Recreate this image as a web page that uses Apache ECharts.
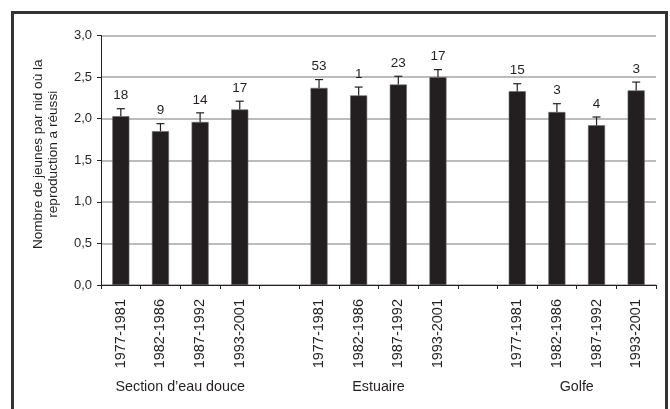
<!DOCTYPE html>
<html>
<head>
<meta charset="utf-8">
<script src="https://cdn.jsdelivr.net/npm/echarts@6/dist/echarts.min.js"></script>
<style>
  html, body { margin: 0; padding: 0; background: #fff; }
  #container { width: 670px; height: 409px; }
</style>
</head>
<body>
<div id="container"></div>
<script>
// categories: 3 groups of 4 periods, with an empty slot between groups
var periods = ['1977-1981', '1982-1986', '1987-1992', '1993-2001'];
var groups = ['Section d\u2019eau douce', 'Estuaire', 'Golfe'];

// mean young per successful nest, by group then period
var means = [
  [2.03, 1.85, 1.96, 2.11],
  [2.37, 2.28, 2.41, 2.50],
  [2.33, 2.08, 1.92, 2.34]
];
// top of the error bar
var upper = [
  [2.12, 1.94, 2.07, 2.21],
  [2.47, 2.38, 2.51, 2.59],
  [2.42, 2.18, 2.02, 2.44]
];
// number of nests (labels over bars)
var counts = [
  [18, 9, 14, 17],
  [53, 1, 23, 17],
  [15, 3, 4, 3]
];

var yTicks = [0, 0.5, 1, 1.5, 2, 2.5, 3];

// flatten into one category axis with blank slots between groups
var categories = [];
var barData = [];
var errData = [];
var groupCenters = {};
for (var g = 0; g < groups.length; g++) {
  if (g > 0) {
    categories.push('');
    barData.push('-');
  }
  var start = categories.length;
  for (var p = 0; p < periods.length; p++) {
    errData.push([categories.length, means[g][p], upper[g][p], counts[g][p]]);
    categories.push(periods[p]);
    barData.push(means[g][p]);
  }
  groupCenters[start + periods.length / 2] = groups[g];
}

var ink = '#231f20';
var font = '"Liberation Sans", Arial, sans-serif';

var dom = document.getElementById('container');
var myChart = echarts.init(dom);

var option = {
  animation: false,
  textStyle: { fontFamily: font },
  grid: { left: 101, right: 14, top: 35.5, bottom: 124 },
  graphic: [{
    type: 'rect',
    shape: { x: 12.5, y: 12.5, width: 654, height: 430 },
    style: { fill: 'none', stroke: '#333', lineWidth: 3 },
    silent: true
  }],
  xAxis: [
    {
      type: 'category',
      data: categories,
      axisLine: { lineStyle: { color: ink, width: 1 } },
      axisTick: { show: true, length: 4, interval: 0, lineStyle: { color: ink } },
      axisLabel: {
        interval: 0, rotate: 90, margin: 14,
        fontSize: 14.5, color: ink, fontFamily: font
      },
      splitLine: { show: false }
    },
    {
      type: 'value',
      position: 'bottom',
      min: 0,
      max: categories.length,
      interval: 1,
      axisLine: { show: false },
      axisTick: { show: false },
      splitLine: { show: false },
      axisLabel: {
        margin: 95, fontSize: 14.3, color: ink, fontFamily: font,
        showMinLabel: true, showMaxLabel: true,
        formatter: function (v) { return groupCenters[v] || ''; }
      }
    }
  ],
  yAxis: {
    type: 'value',
    min: yTicks[0],
    max: yTicks[yTicks.length - 1],
    interval: 0.5,
    name: 'Nombre de jeunes par nid où la\nreproduction a réussi',
    nameLocation: 'middle',
    nameGap: 40,
    nameTextStyle: {
      fontSize: 13.6, color: ink, fontFamily: font, lineHeight: 15.5,
      padding: [0, 0, 0, 12]
    },
    axisLine: { show: true, lineStyle: { color: ink, width: 1 } },
    axisTick: { show: true, length: 4, lineStyle: { color: ink } },
    axisLabel: {
      margin: 9, fontSize: 13, color: ink, fontFamily: font,
      formatter: function (v) { return v.toFixed(1).replace('.', ','); }
    },
    splitLine: { show: true, lineStyle: { color: '#a6a6a6', width: 1.5 } }
  },
  series: [
    {
      type: 'bar',
      data: barData,
      barWidth: '43%',
      itemStyle: { color: ink, borderColor: '#666', borderWidth: 0.6 }
    },
    {
      type: 'custom',
      data: errData,
      z: 5,
      renderItem: function (params, api) {
        var x = api.value(0);
        var base = api.coord([x, api.value(1)]);
        var top = api.coord([x, api.value(2)]);
        var cap = 4;
        var st = { stroke: ink, lineWidth: 1.2 };
        return {
          type: 'group',
          children: [
            { type: 'line', shape: { x1: base[0], y1: base[1], x2: top[0], y2: top[1] }, style: st },
            { type: 'line', shape: { x1: top[0] - cap, y1: top[1], x2: top[0] + cap, y2: top[1] }, style: st },
            {
              type: 'text',
              x: top[0], y: top[1] - 6,
              style: {
                text: String(api.value(3)),
                fill: ink, font: '13.5px ' + font,
                textAlign: 'center', textVerticalAlign: 'bottom'
              }
            }
          ]
        };
      }
    }
  ]
};

myChart.setOption(option);
</script>
</body>
</html>
